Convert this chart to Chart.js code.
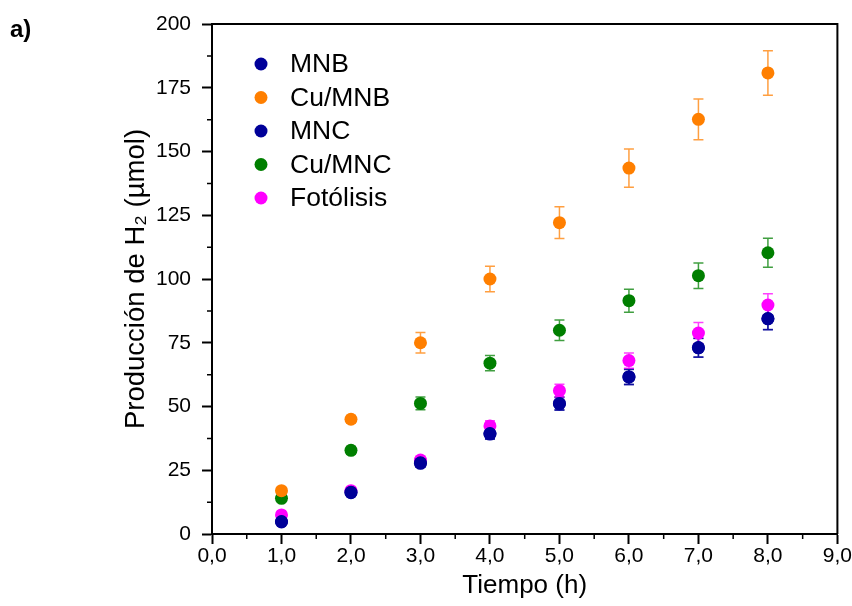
<!DOCTYPE html>
<html>
<head>
<meta charset="utf-8">
<script src="https://cdn.jsdelivr.net/npm/chart.js@4.4.1/dist/chart.umd.min.js"></script>
<style>
  html, body { margin: 0; padding: 0; background: #fff; }
  #wrap { width: 852px; height: 606px; }
</style>
</head>
<body>
<div id="wrap"><canvas id="myChart" width="852" height="606"></canvas></div>
<script>
// tiempo (h)
const hours = [1, 2, 3, 4, 5, 6, 7, 8];

const seriesNames = ['MNB', 'Cu/MNB', 'MNC', 'Cu/MNC', 'Fotólisis'];
const seriesColors = ['#000099', '#ff7f00', '#000099', '#007f00', '#ff00ff'];

// H2 (umol)
const mnb      = [4.7, 16.2, 27.7, 39.2, 51.2, 61.5, 73.1, 84.4];
const cuMnb    = [17.0, 45.0, 75.0, 100.0, 122.1, 143.5, 162.6, 180.8];
const mnc      = [4.9, 16.4, 27.9, 39.4, 51.0, 61.7, 73.0, 84.5];
const cuMnc    = [14.0, 32.8, 51.2, 67.0, 79.9, 91.5, 101.3, 110.3];
const fotolisis = [7.5, 17.0, 29.0, 42.4, 56.2, 68.0, 78.8, 89.8];

// error bars (+/-)
const mnbErr      = [1.0, 1.2, 1.5, 2.0, 2.5, 3.0, 3.7, 4.3];
const cuMnbErr    = [1.0, 1.5, 4.0, 5.0, 6.2, 7.5, 8.0, 8.7];
const mncErr      = [1.0, 1.2, 1.5, 2.0, 2.5, 3.0, 3.7, 4.3];
const cuMncErr    = [1.0, 1.5, 2.5, 3.0, 4.0, 4.5, 5.0, 5.7];
const fotolisisErr = [1.0, 1.2, 1.5, 2.0, 2.5, 3.0, 4.1, 4.4];

const yTicks = [0, 25, 50, 75, 100, 125, 150, 175, 200];
const xTicks = [0, 1, 2, 3, 4, 5, 6, 7, 8, 9];

const allValues = [mnb, cuMnb, mnc, cuMnc, fotolisis];
const allErrors = [mnbErr, cuMnbErr, mncErr, cuMncErr, fotolisisErr];
const drawOrder = [1, 3, 2, 4, 5];

const FONT = "'Liberation Sans', Arial, sans-serif";

const datasets = seriesNames.map((name, i) => ({
    label: name,
    data: hours.map((h, k) => ({ x: h, y: allValues[i][k] })),
    errors: allErrors[i],
    backgroundColor: seriesColors[i],
    borderColor: seriesColors[i],
    pointRadius: 6.5,
    pointBorderWidth: 0,
    order: drawOrder[i],
}));

// error bars, drawn under the points
const errorBars = {
    id: 'errorBars',
    beforeDatasetsDraw(chart) {
        const ctx = chart.ctx;
        const y = chart.scales.y;
        chart.data.datasets.forEach((ds, i) => {
            const meta = chart.getDatasetMeta(i);
            ctx.save();
            ctx.strokeStyle = ds.borderColor;
            ctx.globalAlpha = 0.75;
            ctx.lineWidth = 1.5;
            meta.data.forEach((pt, k) => {
                const v = ds.data[k].y, e = ds.errors[k];
                const top = y.getPixelForValue(v + e);
                const bot = y.getPixelForValue(v - e);
                ctx.beginPath();
                ctx.moveTo(pt.x, top); ctx.lineTo(pt.x, bot);
                ctx.moveTo(pt.x - 5, top); ctx.lineTo(pt.x + 5, top);
                ctx.moveTo(pt.x - 5, bot); ctx.lineTo(pt.x + 5, bot);
                ctx.stroke();
            });
            ctx.restore();
        });
    }
};

// frame, minor ticks, legend and panel letter
const decorations = {
    id: 'decorations',
    afterDraw(chart) {
        const ctx = chart.ctx;
        const a = chart.chartArea;
        const xs = chart.scales.x, ys = chart.scales.y;
        ctx.save();
        ctx.strokeStyle = '#000';
        ctx.lineWidth = 2;
        ctx.beginPath();
        ctx.moveTo(a.left, a.top); ctx.lineTo(a.right, a.top); ctx.lineTo(a.right, a.bottom);
        ctx.stroke();

        ctx.lineWidth = 1.5;
        ctx.beginPath();
        for (let v = 12.5; v < 200; v += 25) {
            const p = ys.getPixelForValue(v);
            ctx.moveTo(a.left, p); ctx.lineTo(a.left - 5, p);
        }
        for (let v = 0.5; v < 9; v += 1) {
            const p = xs.getPixelForValue(v);
            ctx.moveTo(p, a.bottom); ctx.lineTo(p, a.bottom + 5);
        }
        ctx.stroke();

        // legend
        ctx.font = '26.5px ' + FONT;
        ctx.textBaseline = 'middle';
        ctx.textAlign = 'left';
        chart.data.datasets.forEach((ds, i) => {
            const ly = 64 + i * 33.5;
            ctx.fillStyle = ds.backgroundColor;
            ctx.beginPath();
            ctx.arc(261, ly, 6.5, 0, Math.PI * 2);
            ctx.fill();
            ctx.fillStyle = '#000';
            ctx.fillText(ds.label, 290, ly + 1);
        });

        ctx.font = 'bold 24px ' + FONT;
        ctx.fillText('a)', 10, 30);
        ctx.restore();
    }
};

const config = {
    type: 'scatter',
    data: { datasets: datasets },
    options: {
        responsive: false,
        animation: false,
        layout: { padding: { top: 24, right: 14, left: 0, bottom: 0 } },
        plugins: {
            legend: { display: false },
            tooltip: { enabled: false },
        },
        scales: {
            x: {
                type: 'linear',
                min: 0, max: 9,
                afterBuildTicks: s => { s.ticks = xTicks.map(v => ({ value: v })); },
                afterFit: s => { s.height = 72; },
                ticks: {
                    color: '#000',
                    font: { family: FONT, size: 21 },
                    padding: 0,
                    maxRotation: 0,
                    callback: v => v.toFixed(1).replace('.', ','),
                },
                grid: { drawOnChartArea: false, tickLength: 10, tickWidth: 2, tickColor: '#000' },
                border: { color: '#000', width: 2 },
                title: {
                    display: true,
                    text: 'Tiempo (h)',
                    color: '#000',
                    font: { family: FONT, size: 26 },
                    padding: { top: 0, bottom: 5 },
                },
            },
            y: {
                type: 'linear',
                min: 0, max: 200,
                afterBuildTicks: s => { s.ticks = yTicks.map(v => ({ value: v })); },
                afterFit: s => { s.width = 212; },
                ticks: {
                    color: '#000',
                    font: { family: FONT, size: 21 },
                    padding: 11,
                },
                grid: { drawOnChartArea: false, tickLength: 10, tickWidth: 2, tickColor: '#000' },
                border: { color: '#000', width: 2 },
                title: {
                    display: true,
                    text: 'Producción de H₂ (µmol)',
                    color: '#000',
                    font: { family: FONT, size: 27.5 },
                    padding: { top: 120, bottom: 0 },
                },
            },
        },
    },
    plugins: [errorBars, decorations],
};

const chart = new Chart(document.getElementById('myChart'), config);
</script>
</body>
</html>
